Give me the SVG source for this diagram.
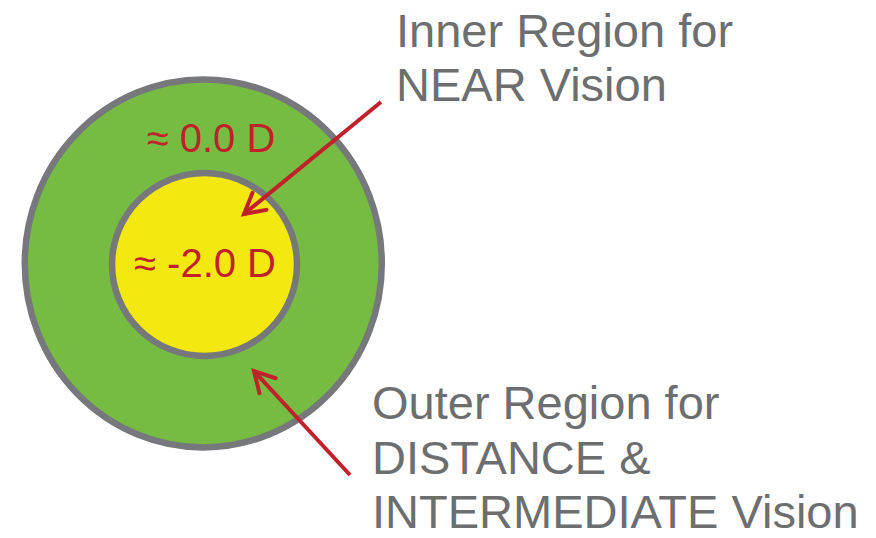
<svg xmlns="http://www.w3.org/2000/svg" width="876" height="538" viewBox="0 0 876 538">
<style>
.lbl{font-family:"Liberation Sans",Arial,sans-serif;font-size:47px;fill:#6d6e70}
.pw{font-family:"Liberation Sans",Arial,sans-serif;font-size:40px;fill:#c1212b;text-anchor:middle}
.ring{stroke:#77787b;stroke-width:6.5}
.conn{stroke:#c1212b;stroke-width:4;fill:none;stroke-linecap:butt}
</style>
<defs>
<marker id="ah" markerUnits="userSpaceOnUse" markerWidth="40" markerHeight="40" viewBox="-30 -20 40 40" refX="0" refY="0" orient="auto" overflow="visible">
<path d="M-20,-11 L0,0 L-20,11" fill="none" stroke="#c1212b" stroke-width="4" stroke-linecap="round" stroke-linejoin="miter"/>
</marker>
</defs>
<rect width="876" height="538" fill="#ffffff"/>
<g id="outer-region">
<ellipse class="ring" cx="203.3" cy="263.4" rx="178.5" ry="184" fill="#76bc43"/>
<text class="pw" x="211" y="152">≈ 0.0 D</text>
</g>
<g id="inner-region">
<ellipse class="ring" cx="204.5" cy="264.5" rx="92.5" ry="91.5" fill="#f4e811"/>
<text class="pw" x="205" y="277">≈ -2.0 D</text>
</g>
<g id="label-near">
<text class="lbl" x="396" y="47">Inner Region for</text>
<text class="lbl" x="396" y="101">NEAR Vision</text>
</g>
<g id="label-distance">
<text class="lbl" x="372" y="419">Outer Region for</text>
<text class="lbl" x="372" y="474">DISTANCE &amp;</text>
<text class="lbl" x="372" y="528">INTERMEDIATE Vision</text>
</g>
<g id="connectors">
<path class="conn" d="M381,102 L244,214" marker-end="url(#ah)"/>
<path class="conn" d="M350,475 L254,371" marker-end="url(#ah)"/>
</g>
</svg>
